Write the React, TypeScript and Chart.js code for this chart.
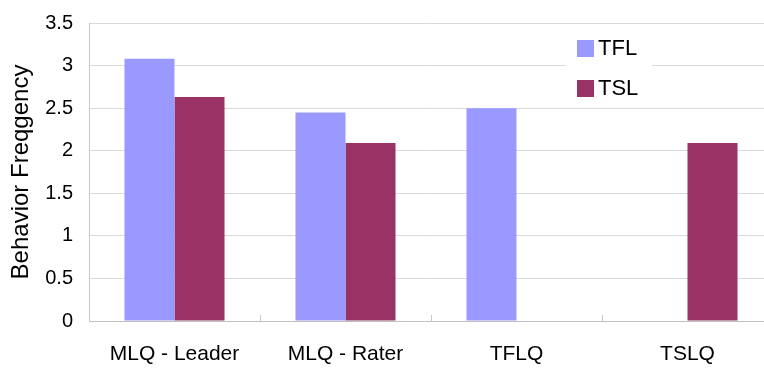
import React, { useEffect, useRef } from "react";
import { Chart, registerables } from "chart.js";

Chart.register(...registerables);

const categories = ["MLQ - Leader", "MLQ - Rater", "TFLQ", "TSLQ"];
const tflValues: (number | null)[] = [3.08, 2.45, 2.5, null];
const tslValues: (number | null)[] = [2.63, 2.09, null, 2.09];
const seriesNames = ["TFL", "TSL"];
const seriesColors = ["#9999FF", "#993366"];
const yTitle = "Behavior Freqgency";
const FONT = "'Liberation Sans', Arial, sans-serif";
const SHIFT = 5;

const innerTicks = {
  id: "innerTicks",
  afterDatasetsDraw(chart: any) {
    const x = chart.scales.x;
    const ctx = chart.ctx;
    const bottom = chart.chartArea.bottom;
    ctx.save();
    ctx.strokeStyle = "#c8c8c8";
    ctx.lineWidth = 1;
    for (let i = 0; i < categories.length - 1; i++) {
      const px = Math.round((x.getPixelForValue(i) + x.getPixelForValue(i + 1)) / 2) + 0.5;
      ctx.beginPath();
      ctx.moveTo(px, bottom);
      ctx.lineTo(px, bottom - 6);
      ctx.stroke();
    }
    ctx.restore();
  },
};

const boxLegend = {
  id: "boxLegend",
  afterDatasetsDraw(chart: any) {
    const ctx = chart.ctx;
    ctx.save();
    ctx.fillStyle = "#ffffff";
    ctx.fillRect(566, 30 + SHIFT, 86, 76);
    ctx.font = "22px " + FONT;
    ctx.textBaseline = "middle";
    chart.data.datasets.forEach((ds: any, i: number) => {
      const cy = 48 + SHIFT + i * 40;
      ctx.fillStyle = ds.backgroundColor;
      ctx.fillRect(577, cy - 8, 17, 17);
      ctx.fillStyle = "#000";
      ctx.fillText(ds.label, 598, cy + 1);
    });
    ctx.restore();
  },
};

export default function App() {
  const ref = useRef<HTMLCanvasElement>(null);
  useEffect(() => {
    if (!ref.current) return;
    const chart = new Chart(ref.current, {
      type: "bar",
      data: {
        labels: categories,
        datasets: [
          { label: seriesNames[0], data: tflValues, backgroundColor: seriesColors[0], categoryPercentage: 0.585, barPercentage: 1 },
          { label: seriesNames[1], data: tslValues, backgroundColor: seriesColors[1], categoryPercentage: 0.585, barPercentage: 1 },
        ],
      },
      options: {
        animation: false,
        responsive: false,
        maintainAspectRatio: false,
        layout: { padding: { top: 11, right: 3, bottom: 0, left: 0 } },
        plugins: {
          legend: { display: false },
          tooltip: { enabled: false },
        },
        scales: {
          x: {
            grid: { display: false },
            border: { display: true, color: "#c0c0c0", width: 1 },
            ticks: { color: "#000", font: { family: FONT, size: 21 }, padding: 13 },
            afterFit: (s: any) => { s.height = 53; },
          },
          y: {
            min: 0,
            max: 3.5,
            ticks: {
              stepSize: 0.5,
              color: "#000",
              font: { family: FONT, size: 20 },
              padding: 16,
              callback: (v: any) => String(v),
            },
            grid: { color: "#d9d9d9", drawTicks: false },
            border: { display: true, color: "#c8c8c8", width: 1 },
            title: { display: true, text: yTitle, color: "#000", font: { family: FONT, size: 24 }, padding: { top: 7, bottom: 0 } },
            afterFit: (s: any) => { s.width = 89; },
          },
        },
      },
      plugins: [innerTicks, boxLegend],
    });
    return () => chart.destroy();
  }, []);
  return (
    <div style={{ position: "fixed", left: 0, top: -SHIFT, width: 776, height: 374 + SHIFT, background: "#fff" }}>
      <canvas ref={ref} width={776} height={374 + SHIFT} style={{ width: 776, height: 374 + SHIFT, display: "block" }} />
    </div>
  );
}
